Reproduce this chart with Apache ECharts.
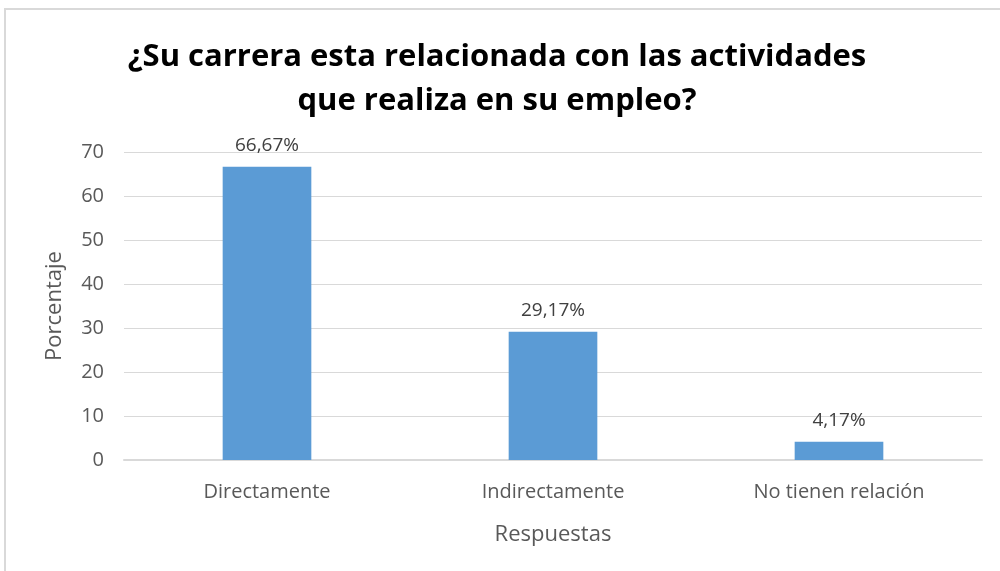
<!DOCTYPE html>
<html>
<head>
<meta charset="utf-8">
<script src="https://cdn.jsdelivr.net/npm/echarts@6/dist/echarts.min.js"></script>
<style>
  html, body { margin: 0; padding: 0; background: #fff; }
  #main { width: 1000px; height: 571px; }
</style>
</head>
<body>
<div id="main"></div>
<script>
var categories = ["Directamente", "Indirectamente", "No tienen relación"];
var values = [66.67, 29.17, 4.17];
var yTicks = { min: 0, max: 70, interval: 10 };

var myChart = echarts.init(document.getElementById("main"));
var option = {
  backgroundColor: "#ffffff",
  title: {
    text: "¿Su carrera esta relacionada con las actividades\nque realiza en su empleo?",
    left: 492,
    textAlign: "center",
    top: 30,
    textStyle: {
      fontFamily: "Open Sans",
      fontWeight: "bold",
      fontSize: 31,
      lineHeight: 44,
      color: "#000000"
    }
  },
  graphic: [
    {
      type: "rect",
      shape: { x: 5, y: 9, width: 1010, height: 600 },
      style: { fill: "none", stroke: "#d9d9d9", lineWidth: 2 }
    }
  ],
  grid: {
    left: 124,
    right: 18,
    top: 152,
    bottom: 111
  },
  xAxis: {
    type: "category",
    data: categories,
    name: "Respuestas",
    nameLocation: "middle",
    nameGap: 64,
    nameTextStyle: { fontFamily: "Open Sans", fontSize: 22, color: "#595959" },
    axisLine: { lineStyle: { color: "#d9d9d9", width: 2 } },
    axisTick: { show: false },
    axisLabel: { fontFamily: "Open Sans", fontSize: 20, color: "#595959", margin: 22 }
  },
  yAxis: {
    type: "value",
    min: yTicks.min,
    max: yTicks.max,
    interval: yTicks.interval,
    name: "Porcentaje",
    nameLocation: "middle",
    nameGap: 58,
    nameTextStyle: { fontFamily: "Open Sans", fontSize: 22, color: "#595959" },
    axisLine: { show: false },
    axisTick: { show: false },
    axisLabel: { fontFamily: "Open Sans", fontSize: 20, color: "#595959", margin: 20 },
    splitLine: { lineStyle: { color: "#d9d9d9", width: 1 } }
  },
  series: [
    {
      type: "bar",
      data: values,
      barWidth: "31%",
      itemStyle: { color: "#5b9bd5" },
      label: {
        show: true,
        position: "top",
        distance: 12,
        fontFamily: "Open Sans",
        fontSize: 19,
        color: "#404040",
        formatter: function (p) {
          return p.value.toFixed(2).replace(".", ",") + "%";
        }
      }
    }
  ]
};
myChart.setOption(option);
</script>
</body>
</html>
